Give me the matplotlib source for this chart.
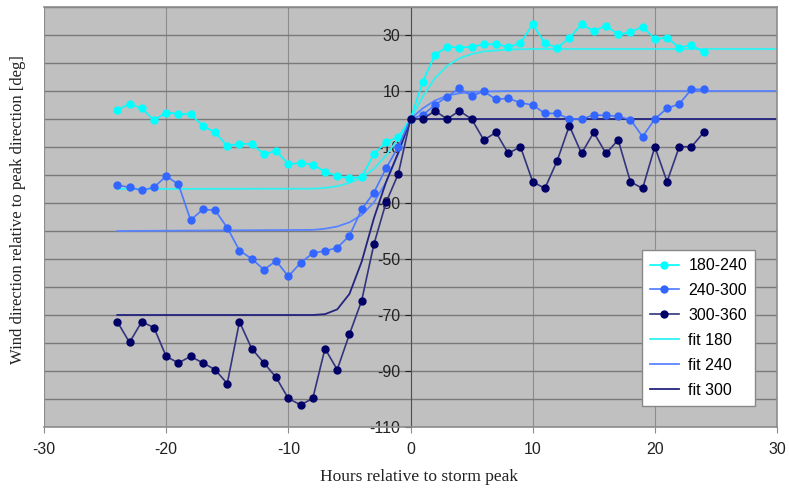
import matplotlib
matplotlib.use("Agg")
import matplotlib.pyplot as plt

plt.rcParams['font.family'] = ['Liberation Sans', 'DejaVu Sans']
plt.rcParams['axes.unicode_minus'] = False

# observed wind direction, hours -24..24
hours = list(range(-24, 25))
dir_180 = [3.2, 5.4, 3.8, -0.4, 2.3, 1.9, 1.7, -2.4, -4.8, -9.6,
           -8.9, -8.9, -12.5, -11.4, -16.1, -15.7, -16.3, -18.8, -20.4, -21.2,
           -20.7, -12.6, -8.2, -6.5, 0,
           13.3, 22.9, 25.8, 25.5, 25.8, 26.7, 26.7, 25.8, 27.0, 33.9,
           27.0, 25.5, 28.8, 33.9, 31.4, 33.3, 30.2, 31.0, 33.0, 28.6,
           29.0, 25.5, 26.4, 23.8]
dir_240 = [-23.6, -24.4, -25.5, -24.4, -20.4, -23.3, -36.1, -32.3, -32.6, -38.8,
           -47.0, -49.9, -53.8, -50.7, -56.2, -51.4, -47.9, -47.1, -46.0, -41.7,
           -32.3, -26.3, -17.6, -9.9, 0,
           1.4, 5.0, 8.0, 11.0, 8.2, 9.9, 7.0, 7.4, 5.8, 5.0,
           2.0, 2.0, 0, 0, 1.4, 1.3, 0.9, -0.2, -6.3, 0,
           3.8, 5.4, 10.6, 10.6]
dir_300 = [-72.4, -79.8, -72.4, -74.5, -84.8, -87.1, -84.8, -87.1, -89.5, -94.5,
           -72.4, -82.0, -87.1, -92.3, -99.8, -102.1, -99.8, -82.0, -89.5, -76.9,
           -64.9, -44.8, -29.8, -19.6, 0,
           0, 2.9, 0, 2.9, 0, -7.5, -4.8, -12.3, -9.9, -22.4,
           -24.8, -15.0, -2.4, -12.3, -4.8, -12.3, -7.5, -22.4, -24.8, -9.9,
           -22.4, -9.9, -9.9, -4.8]

# fitted curves
fit_hours = [-24, -8, -7, -6, -5, -4, -3, -2, -1, 0, 1, 2, 3, 4, 5, 6, 7, 8, 10, 30]
fit_180 = [-25, -24.9, -24.6, -24.0, -22.8, -21.0, -17.8, -13.0, -7.0, 0,
           8.0, 14.6, 19.0, 21.7, 23.2, 24.1, 24.5, 24.8, 25, 25]
fit_240 = [-40, -39.6, -39.2, -38.4, -36.9, -34.3, -29.8, -22.6, -12.4, 0,
           3.8, 6.6, 8.3, 9.2, 9.6, 9.8, 9.9, 10, 10, 10]
fit_300 = [-70, -70, -69.7, -68.0, -62.5, -51.0, -35.5, -22.5, -12.0, 0,
           0, 0, 0, 0, 0, 0, 0, 0, 0, 0]

fig = plt.figure(figsize=(7.89, 4.88), dpi=100)
ax = fig.add_axes([44/789, 1-427/488, 733/789, 420/488])
ax.set_facecolor('#C0C0C0')

ax.plot(hours, dir_180, color='#00FFFF', lw=1.2, marker='o', ms=5, label='180-240', zorder=3)
ax.plot(hours, dir_240, color='#4A78FF', lw=1.2, marker='o', ms=5, mfc='#3366FF', mec='#3366FF', label='240-300', zorder=3)
ax.plot(hours, dir_300, color='#34347E', lw=1.2, marker='o', ms=5, mfc='#000066', mec='#000066', label='300-360', zorder=3)
ax.plot(fit_hours, fit_180, color='#2EF2F2', lw=1.3, label='fit 180', zorder=2)
ax.plot(fit_hours, fit_240, color='#5A84FF', lw=1.3, label='fit 240', zorder=2)
ax.plot(fit_hours, fit_300, color='#24247E', lw=1.3, label='fit 300', zorder=2)

ax.set_xlim(-30, 30)
ax.set_ylim(-110, 40)
ax.set_xticks(range(-30, 31, 10))
ax.set_yticks(range(-110, 31, 20))
ax.set_yticks(range(-100, 41, 20), minor=True)
ax.grid(which='both', axis='y', color='#7A7A7A', lw=1.0)
ax.grid(axis='x', color='#8C8C8C', lw=0.8)
ax.set_axisbelow(True)

ax.spines['left'].set_position(('data', 0))
ax.spines['left'].set_color('#505050')
for s in ['top', 'right', 'bottom']:
    ax.spines[s].set_color('#8C8C8C')
    ax.spines[s].set_linewidth(1.2)
ax.axvline(-30, color='#8C8C8C', lw=1.5)

ax.tick_params(axis='both', labelsize=11.5, colors='#222222', length=4)
ax.tick_params(axis='x', color='#8C8C8C', pad=7)
ax.tick_params(axis='y', which='minor', length=0)

ax.legend(loc='upper right', bbox_to_anchor=(0.97, 0.421), fancybox=False,
          edgecolor='#888888', framealpha=1, fontsize=11.5, handlelength=1.8,
          labelspacing=0.62, borderpad=0.5, handletextpad=0.6, borderaxespad=0)

fig.text(18/789, 1-210/488, 'Wind direction relative to peak direction [deg]',
         rotation=90, ha='center', va='center', family='Liberation Serif', size=12, color='#222222')
fig.text(419/789, 1-477/488, 'Hours relative to storm peak',
         ha='center', va='center', family='Liberation Serif', size=12.5, color='#222222')

fig.savefig('out.png', dpi=100)
